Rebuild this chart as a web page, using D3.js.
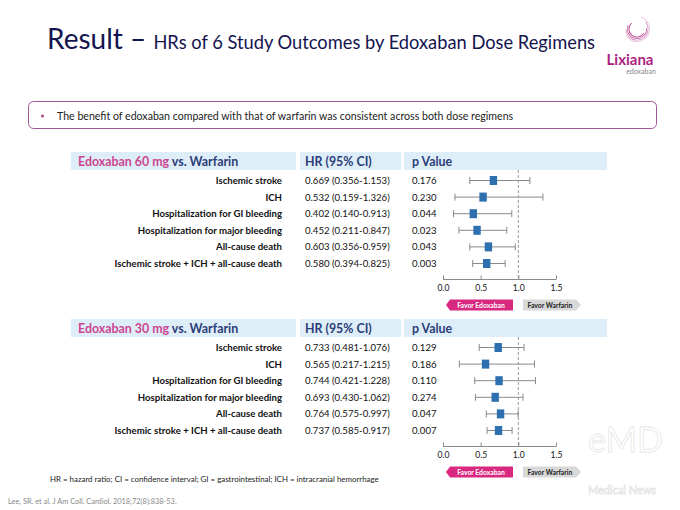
<!DOCTYPE html>
<html>
<head>
<meta charset="utf-8">
<script src="https://cdn.jsdelivr.net/npm/d3@7"></script>
<style>
  body { margin: 0; background: #fff; }
  text { font-family: "Lato", sans-serif; }
</style>
</head>
<body>
<svg id="chart"></svg>
<script>
// outcomes and values
const outcomes = [
  'Ischemic stroke',
  'ICH',
  'Hospitalization for GI bleeding',
  'Hospitalization for major bleeding',
  'All-cause death',
  'Ischemic stroke + ICH + all-cause death'
];
const hr60 = [0.669, 0.532, 0.402, 0.452, 0.603, 0.580];
const lo60 = [0.356, 0.159, 0.140, 0.211, 0.356, 0.394];
const hi60 = [1.153, 1.326, 0.913, 0.847, 0.959, 0.825];
const p60 = ['0.176', '0.230', '0.044', '0.023', '0.043', '0.003'];

const hr30 = [0.733, 0.565, 0.744, 0.693, 0.764, 0.737];
const lo30 = [0.481, 0.217, 0.421, 0.430, 0.575, 0.585];
const hi30 = [1.076, 1.215, 1.228, 1.062, 0.997, 0.917];
const p30 = ['0.129', '0.186', '0.110', '0.274', '0.047', '0.007'];

const axisTicks = [0, 0.5, 1.0, 1.5];

const W = 680, H = 510;
const svg = d3.select('#chart').attr('width', W).attr('height', H);

// title
const title = svg.append('text').attr('x', 47).attr('y', 49).attr('fill', '#14144f');
title.append('tspan').attr('font-size', 28).text('Result');
title.append('tspan').attr('font-size', 28).text(' – ');
title.append('tspan').attr('font-size', 18.3).text('HRs of 6 Study Outcomes by Edoxaban Dose Regimens');

// logo
const logo = svg.append('g').attr('transform', 'translate(637,29)');
[13, 11.5, 10, 8.5].forEach((r, i) => {
  logo.append('path')
    .attr('d', d3.arc()({ innerRadius: r - 0.8, outerRadius: r, startAngle: 0.3 + i * 0.6, endAngle: 4.2 + i * 0.45 }))
    .attr('fill', d3.interpolateRgb('#e9bfd9', '#a8237b')(i / 3));
});
svg.append('text').attr('x', 630).attr('y', 65).attr('text-anchor', 'middle')
  .attr('font-size', 15).attr('font-weight', 'bold').attr('fill', '#ad1f7c').text('Lixiana');
svg.append('text').attr('x', 641).attr('y', 74).attr('text-anchor', 'middle')
  .attr('font-size', 7).attr('fill', '#888').text('edoxaban');

// key message box
svg.append('rect').attr('x', 28.5).attr('y', 101.5).attr('width', 628).attr('height', 27)
  .attr('rx', 5).attr('fill', '#fff').attr('stroke', '#a0589a').attr('stroke-width', 1);
svg.append('circle').attr('cx', 42.5).attr('cy', 116).attr('r', 1.5).attr('fill', '#b0457f');
svg.append('text').attr('x', 57).attr('y', 119.5).attr('font-size', 10.6).attr('fill', '#222')
  .text('The benefit of edoxaban compared with that of warfarin was consistent across both dose regimens');

const x = d3.scaleLinear().domain([0, 1.5]).range([443, 556]);

function drawPanel(top, dose, hr, lo, hi, pv) {
  const g = svg.append('g');
  const y = d3.scalePoint().domain(outcomes).range([top + 19.5, top + 19.5 + 5 * 16.6]);

  // header band
  [[71, 296], [300, 401], [404, 607]].forEach(([a, b]) => {
    g.append('rect').attr('x', a).attr('y', top - 9).attr('width', b - a).attr('height', 18).attr('fill', '#deeef9');
  });
  const h = g.append('text').attr('x', 78).attr('y', top + 4.5).attr('font-size', 12.4).attr('font-weight', 'bold');
  h.append('tspan').attr('fill', '#cc4690').text(`Edoxaban ${dose} mg `);
  h.append('tspan').attr('fill', '#2c3d78').text('vs. Warfarin');
  g.append('text').attr('x', 305).attr('y', top + 4.5).attr('font-size', 12.4).attr('font-weight', 'bold')
    .attr('fill', '#2c3d78').text('HR (95% CI)');
  g.append('text').attr('x', 412).attr('y', top + 4.5).attr('font-size', 12.4).attr('font-weight', 'bold')
    .attr('fill', '#2c3d78').text('p Value');

  const rows = outcomes.map((o, i) => ({ o, hr: hr[i], lo: lo[i], hi: hi[i], p: pv[i] }));

  g.selectAll('.lab').data(rows).join('text')
    .attr('x', 282).attr('y', d => y(d.o) + 3.5).attr('text-anchor', 'end')
    .attr('font-size', 9.6).attr('font-weight', 'bold').attr('fill', '#111').text(d => d.o);
  g.selectAll('.hr').data(rows).join('text')
    .attr('x', 305).attr('y', d => y(d.o) + 3.5).attr('font-size', 9.6).attr('fill', '#111')
    .text(d => `${d3.format('.3f')(d.hr)} (${d3.format('.3f')(d.lo)}-${d3.format('.3f')(d.hi)})`);
  g.selectAll('.pv').data(rows).join('text')
    .attr('x', 412).attr('y', d => y(d.o) + 3.5).attr('font-size', 9.6).attr('fill', '#111').text(d => d.p);

  const axisY = top + 118.5;
  // reference line at HR = 1
  g.append('line').attr('x1', x(1)).attr('x2', x(1)).attr('y1', top + 9).attr('y2', axisY)
    .attr('stroke', '#999').attr('stroke-dasharray', '3,2');

  // CIs
  const ci = g.selectAll('.ci').data(rows).join('g').attr('stroke', '#8a8a8a').attr('stroke-width', 1);
  ci.append('line').attr('x1', d => x(d.lo)).attr('x2', d => x(d.hi)).attr('y1', d => y(d.o)).attr('y2', d => y(d.o));
  ci.append('line').attr('x1', d => x(d.lo)).attr('x2', d => x(d.lo)).attr('y1', d => y(d.o) - 3.5).attr('y2', d => y(d.o) + 3.5);
  ci.append('line').attr('x1', d => x(d.hi)).attr('x2', d => x(d.hi)).attr('y1', d => y(d.o) - 3.5).attr('y2', d => y(d.o) + 3.5);
  g.selectAll('.box').data(rows).join('rect')
    .attr('x', d => x(d.hr) - 3.7).attr('y', d => y(d.o) - 4.5).attr('width', 7.4).attr('height', 9)
    .attr('fill', '#2e6fb0');

  // axis
  const ax = g.append('g').attr('transform', `translate(0,${axisY})`)
    .call(d3.axisBottom(x).tickValues(axisTicks).tickFormat(d3.format('.1f')).tickSize(-4).tickPadding(4));
  ax.select('.domain').attr('stroke', '#8a8a8a').attr('d', `M${x(0)},0H${x(1.5)}`);
  ax.selectAll('.tick line').attr('stroke', '#8a8a8a');
  ax.selectAll('.tick text').attr('font-size', 8.6).attr('fill', '#111')
    .style('font-family', 'Lato, sans-serif').attr('dy', '0.9em');

  // favour arrows
  const ay = axisY + 20, ah = 11;
  g.append('path').attr('d', `M450,${ay}H513V${ay + ah}H450L446,${ay + ah / 2}Z`).attr('fill', '#d9287f');
  g.append('text').attr('x', 481).attr('y', ay + 8).attr('text-anchor', 'middle').attr('font-size', 6.8)
    .attr('font-weight', 'bold').attr('fill', '#fff').text('Favor Edoxaban');
  g.append('path').attr('d', `M523,${ay}H576L581,${ay + ah / 2}L576,${ay + ah}H523Z`).attr('fill', '#d8d8d8');
  g.append('text').attr('x', 550).attr('y', ay + 8).attr('text-anchor', 'middle').attr('font-size', 6.8)
    .attr('font-weight', 'bold').attr('fill', '#222').text('Favor Warfarin');
}

drawPanel(161, 60, hr60, lo60, hi60, p60);
drawPanel(328, 30, hr30, lo30, hi30, p30);

// footnotes
svg.append('text').attr('x', 50).attr('y', 482).attr('font-size', 7.9).attr('fill', '#222')
  .text('HR = hazard ratio; CI = confidence interval; GI = gastrointestinal; ICH = intracranial hemorrhage');
svg.append('text').attr('x', 8).attr('y', 504).attr('font-size', 7.4).attr('fill', '#888')
  .text('Lee, SR. et al. J Am Coll. Cardiol. 2018;72(8):838-53.');

// faint watermark, kept clear of the axis labels
const wm = svg.append('g').attr('fill', '#fff').attr('stroke', '#e6e6e6').attr('stroke-width', 0.8);
wm.append('text').attr('x', 588).attr('y', 452).attr('font-size', 34).text('eMD');
wm.append('text').attr('x', 588).attr('y', 494).attr('font-size', 11).text('Medical News');
</script>
</body>
</html>
